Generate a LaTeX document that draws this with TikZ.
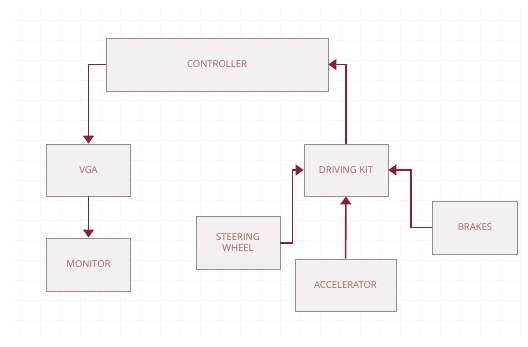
\documentclass[tikz,border=0pt]{standalone}
\usepackage{fontspec}
\setmainfont{Open Sans}
\usetikzlibrary{arrows.meta}
\definecolor{boxline}{HTML}{9A8C8E}
\definecolor{boxfill}{HTML}{F2F0F0}
\definecolor{boxtext}{HTML}{A8605E}
\definecolor{wire}{HTML}{8A1F40}
\tikzset{block/.style = {draw=boxline, fill=boxfill, line width=0.9pt, rectangle, text=boxtext,
                         font=\fontsize{9.5}{11}\selectfont, align=center, inner sep=1pt},
         wirearrow/.style = {draw=wire, line width=1.6pt, -{Triangle[width=11pt,length=8pt]}}}

\begin{document}
\begin{tikzpicture}[x=1pt,y=-1pt]
        \useasboundingbox[fill=white](0,0)rectangle(528,347);
        \draw[black!3,step=20pt](14,8)grid(520,335);
        \node[block,minimum width=222pt,minimum height=53pt](controller)at(217,64.5){CONTROLLER};
        \node[block,minimum width=84pt,minimum height=52pt](vga)at(88.5,170){VGA};
        \node[block,minimum width=84pt,minimum height=53pt](monitor)at(88.5,264.5){MONITOR};
        \node[block,minimum width=84pt,minimum height=52pt](kit)at(346,170){DRIVING KIT};
        \node[block,minimum width=84pt,minimum height=53pt](wheel)at(238,243){STEERING\\WHEEL};
        \node[block,minimum width=101pt,minimum height=52pt](accel)at(345.5,285){ACCELERATOR};
        \node[block,minimum width=85pt,minimum height=53pt](brakes)at(475,227.5){BRAKES};

        \draw[wirearrow](controller.west)-|(vga.north);
        \draw[wirearrow](vga)--(monitor);
        \draw[wirearrow](kit.north)|-(controller.east);
        \draw[wirearrow](wheel.east)--++(12,0)|-(kit.west);
        \draw[wirearrow](accel)--(kit);
        \draw[wirearrow](brakes.west)--++(-21,0)|-(kit.east);
    \end{tikzpicture}
\end{document}
